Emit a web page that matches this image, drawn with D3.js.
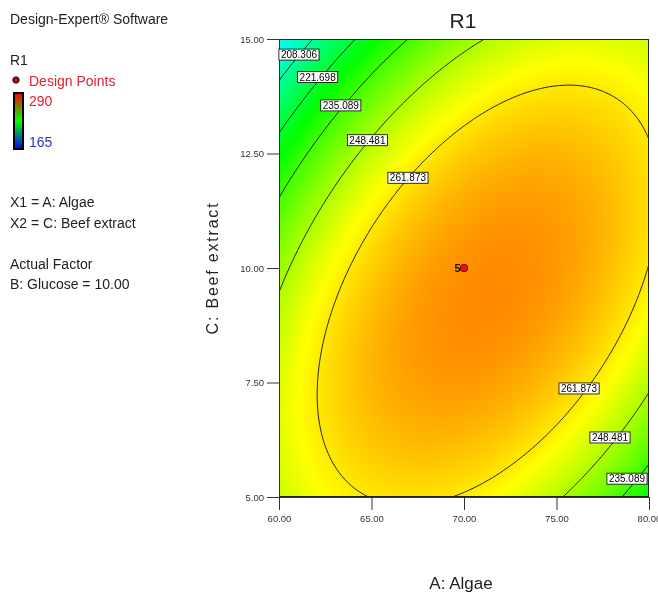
<!DOCTYPE html>
<html><head><meta charset="utf-8">
<script src="https://cdn.jsdelivr.net/npm/d3@7"></script>
<style>
html,body{margin:0;padding:0;background:#fff;}
#wrap{position:relative;width:658px;height:598px;overflow:hidden;font-family:"Liberation Sans",Arial,sans-serif;}
canvas{position:absolute;}
svg{position:absolute;left:0;top:0;}
</style></head><body><div id="wrap"></div>
<script>
// ---------- data ----------
const algaeTicks = [60, 65, 70, 75, 80];            // A: Algae
const beefTicks = [5, 7.5, 10, 12.5, 15];           // C: Beef extract
const contourLevels = [208.306, 221.698, 235.089, 248.481, 261.873];
// fitted quadratic response-surface model in coded units (a=(A-70)/10, c=(C-10)/5)
const modelTerms = ["Intercept", "A", "C", "AC", "A^2", "C^2"];
const modelCoefficients = [275.0, 7.95, -7.77, 20.3, -21.3, -21.6];
const responseRange = [165, 290];
// contour label placements (value, A, C)
const labelValues = [208.306, 221.698, 235.089, 248.481, 261.873, 261.873, 248.481, 235.089];
const labelAlgae  = [61.08, 62.09, 63.34, 64.78, 66.97, 76.22, 77.89, 78.81];
const labelBeef   = [14.66, 14.17, 13.55, 12.79, 11.97, 7.37, 6.30, 5.40];
// design points
const designAlgae = [70];
const designBeef = [10];
const designCount = [5];

// ---------- layout ----------
const W = 658, H = 598;
const plot = {left: 279, right: 649, top: 39, bottom: 497};
const x = d3.scaleLinear().domain([60, 80]).range([plot.left, plot.right]);
const y = d3.scaleLinear().domain([5, 15]).range([plot.bottom, plot.top]);

function model(A, C) {
  const a = (A - 70) / 10, c = (C - 10) / 5;
  const b = modelCoefficients;
  return b[0] + b[1]*a + b[2]*c + b[3]*a*c + b[4]*a*a + b[5]*c*c;
}

const lo = responseRange[0], hi = responseRange[1];
const color = d3.scaleLinear()
  .domain([lo, lo + (hi-lo)*0.25, lo + (hi-lo)*0.5, lo + (hi-lo)*0.75, hi + 6])
  .range(["#0000ff", "#00ffff", "#00ff00", "#ffff00", "#ff0000"])
  .clamp(true);

const wrap = d3.select("#wrap");

// ---------- heatmap (canvas) ----------
const pw = plot.right - plot.left, ph = plot.bottom - plot.top;
const canvas = wrap.append("canvas")
  .attr("width", pw).attr("height", ph)
  .style("left", plot.left + "px").style("top", plot.top + "px");
const ctx = canvas.node().getContext("2d");
const img = ctx.createImageData(pw, ph);
for (let j = 0; j < ph; j++) {
  const C = y.invert(plot.top + j + 0.5);
  for (let i = 0; i < pw; i++) {
    const A = x.invert(plot.left + i + 0.5);
    const col = d3.rgb(color(model(A, C)));
    const k = (j * pw + i) * 4;
    img.data[k] = col.r; img.data[k+1] = col.g; img.data[k+2] = col.b; img.data[k+3] = 255;
  }
}
ctx.putImageData(img, 0, 0);

// ---------- svg overlay ----------
const svg = wrap.append("svg").attr("width", W).attr("height", H);
svg.append("defs").append("clipPath").attr("id", "clip")
  .append("rect").attr("x", plot.left).attr("y", plot.top).attr("width", pw).attr("height", ph);

// contours
const nx = 220, ny = 260;
const grid = new Array(nx * ny);
for (let j = 0; j < ny; j++) {
  const C = 15 - j / (ny - 1) * 10;
  for (let i = 0; i < nx; i++) {
    const A = 60 + i / (nx - 1) * 20;
    grid[j * nx + i] = model(A, C);
  }
}
const contours = d3.contours().size([nx, ny]).thresholds(contourLevels)(grid);
const proj = d3.geoTransform({
  point: function(gx, gy) {
    this.stream.point(x(60 + (gx - 0.5) / (nx - 1) * 20), y(15 - (gy - 0.5) / (ny - 1) * 10));
  }
});
const path = d3.geoPath(proj);
svg.append("g").attr("clip-path", "url(#clip)")
  .selectAll("path").data(contours).join("path")
  .attr("d", path).attr("fill", "none").attr("stroke", "#1a1a1a").attr("stroke-width", 1);

// frame
svg.append("rect").attr("x", plot.left + 0.5).attr("y", plot.top + 0.5)
  .attr("width", pw - 1).attr("height", ph - 1)
  .attr("fill", "none").attr("stroke", "#222").attr("stroke-width", 1);

// axes
const fmt = d3.format(".2f");
const yAxis = svg.append("g").attr("transform", `translate(${plot.left},0)`)
  .call(d3.axisLeft(y).tickValues(beefTicks).tickFormat(fmt).tickSize(12).tickSizeOuter(0).tickPadding(3));
const xAxis = svg.append("g").attr("transform", `translate(0,${plot.bottom})`)
  .call(d3.axisBottom(x).tickValues(algaeTicks).tickFormat(fmt).tickSize(13).tickSizeOuter(0).tickPadding(5));
[xAxis, yAxis].forEach(g => {
  g.selectAll("path.domain").attr("stroke", "#333");
  g.selectAll(".tick line").attr("stroke", "#333");
  g.selectAll("text").attr("font-family", "Liberation Sans, Arial, sans-serif")
    .attr("font-size", 9.5).attr("fill", "#333");
});

// contour labels
const lab = svg.append("g").attr("font-size", 10).attr("font-family", "Liberation Sans, Arial, sans-serif");
labelValues.forEach((v, i) => {
  const cx = x(labelAlgae[i]), cy = y(labelBeef[i]);
  const g = lab.append("g");
  const r = g.append("rect");
  const t = g.append("text").attr("x", cx).attr("y", cy + 3.6)
    .attr("text-anchor", "middle").attr("fill", "#000").text(d3.format(".3f")(v));
  const w = t.node().getComputedTextLength() + 4;
  r.attr("x", cx - w/2).attr("y", cy - 5.5).attr("width", w).attr("height", 11)
    .attr("fill", "#fff").attr("stroke", "#000").attr("stroke-width", 0.8);
});

// design points
const dp = svg.append("g");
designAlgae.forEach((A, i) => {
  dp.append("circle").attr("cx", x(A)).attr("cy", y(designBeef[i])).attr("r", 3.8)
    .attr("fill", "#e0141e").attr("stroke", "#5a0000").attr("stroke-width", 0.8);
  dp.append("text").attr("x", x(A) - 3.5).attr("y", y(designBeef[i]) + 4)
    .attr("text-anchor", "end").attr("font-size", 11).attr("font-weight", "bold").attr("fill", "#111").text(designCount[i]);
});

// titles
svg.append("text").attr("x", (plot.left + plot.right) / 2 - 1).attr("y", 28)
  .attr("text-anchor", "middle").attr("font-size", 21).attr("fill", "#222").text("R1");
svg.append("text").attr("x", (plot.left + plot.right) / 2 - 3).attr("y", 589)
  .attr("text-anchor", "middle").attr("font-size", 17).attr("fill", "#222").text("A: Algae");
svg.append("text").attr("transform", `translate(218,${(plot.top + plot.bottom) / 2}) rotate(-90)`)
  .attr("text-anchor", "middle").attr("font-size", 16).attr("letter-spacing", 1.8)
  .attr("fill", "#222").text("C: Beef extract");

// left info panel
const info = svg.append("g").attr("font-size", 14).attr("fill", "#222");
info.append("text").attr("x", 10).attr("y", 24).text("Design-Expert\u00ae Software");
info.append("text").attr("x", 10).attr("y", 65).text("R1");
info.append("circle").attr("cx", 16).attr("cy", 80).attr("r", 3.2)
  .attr("fill", "#b0101a").attr("stroke", "#111").attr("stroke-width", 1);
info.append("text").attr("x", 29).attr("y", 86).attr("fill", "#e0202e").text("Design Points");
const grad = svg.select("defs").append("linearGradient").attr("id", "lg")
  .attr("x1", 0).attr("y1", 0).attr("x2", 0).attr("y2", 1);
grad.append("stop").attr("offset", "0%").attr("stop-color", "#ff0000");
grad.append("stop").attr("offset", "50%").attr("stop-color", "#00ff00");
grad.append("stop").attr("offset", "100%").attr("stop-color", "#0000ff");
info.append("rect").attr("x", 14).attr("y", 93).attr("width", 9).attr("height", 56)
  .attr("fill", "url(#lg)").attr("stroke", "#000").attr("stroke-width", 2);
info.append("text").attr("x", 29).attr("y", 106).attr("fill", "#e0202e").text(responseRange[1]);
info.append("text").attr("x", 29).attr("y", 147).attr("fill", "#3030c8").text(responseRange[0]);
info.append("text").attr("x", 10).attr("y", 207).text("X1 = A: Algae");
info.append("text").attr("x", 10).attr("y", 228).text("X2 = C: Beef extract");
info.append("text").attr("x", 10).attr("y", 269).text("Actual Factor");
info.append("text").attr("x", 10).attr("y", 289).text("B: Glucose = 10.00");
</script></body></html>
